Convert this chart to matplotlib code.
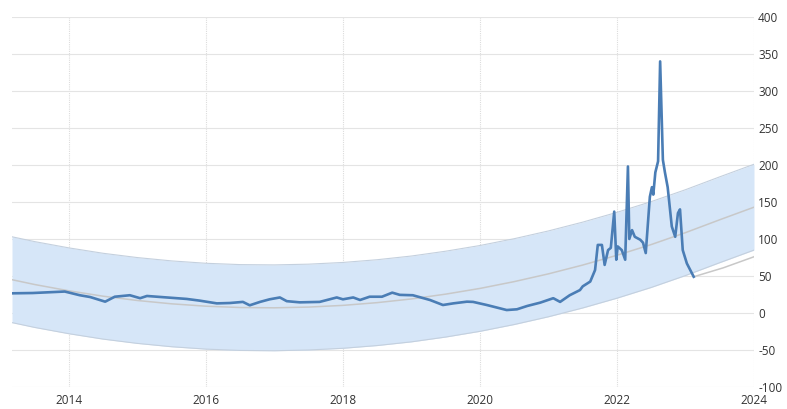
import matplotlib

matplotlib.use("Agg")
import matplotlib.pyplot as plt
import numpy as np

plt.rcParams["font.family"] = ["Open Sans", "DejaVu Sans"]
plt.rcParams["axes.unicode_minus"] = False

# main series (decimal year, value)
years = [
    2013.17, 2013.47, 2013.94, 2014.16, 2014.31, 2014.53, 2014.67, 2014.89, 2015.04, 2015.14,
    2015.43, 2015.72, 2015.91, 2016.16, 2016.35, 2016.54, 2016.64, 2016.79, 2016.93, 2017.08,
    2017.18, 2017.37, 2017.66, 2017.91, 2018.00, 2018.15, 2018.25, 2018.39, 2018.57, 2018.72,
    2018.83, 2019.02, 2019.27, 2019.46, 2019.61, 2019.81, 2019.90, 2020.10, 2020.39, 2020.54,
    2020.69, 2020.88, 2021.07, 2021.17, 2021.31, 2021.46, 2021.50, 2021.61, 2021.68, 2021.72,
    2021.78, 2021.82, 2021.87, 2021.91, 2021.96, 2021.99, 2022.01, 2022.07, 2022.12, 2022.16,
    2022.18, 2022.22, 2022.26, 2022.34, 2022.38, 2022.42, 2022.48, 2022.51, 2022.53, 2022.56,
    2022.60, 2022.63, 2022.67, 2022.70, 2022.74, 2022.80, 2022.85, 2022.89, 2022.92, 2022.96,
    2023.02, 2023.07, 2023.12,
]
values = [
    26.6, 27, 29, 24, 21.6, 15.3, 22, 24, 20, 23,
    21, 19, 16.7, 13, 13.5, 15, 10.4, 15, 18.5, 21,
    16, 14.4, 15, 21, 18.5, 21, 17.6, 22, 22, 27.5,
    24.5, 24, 17.6, 10.8, 13, 15.3, 15, 10.8, 4, 5,
    9.5, 14, 20, 15, 24, 31, 36, 42.5, 58, 92,
    92, 65, 85, 88, 137, 72, 90, 85, 72, 198,
    100, 112, 103, 99, 95, 81, 157, 170, 160, 190,
    205, 340, 207, 190, 170, 117, 103, 135, 140, 85,
    67, 58, 49,
]

# trend line and band
trend_years = [
    2013.17, 2013.5, 2014, 2014.5, 2015, 2015.5, 2016, 2016.5, 2017, 2017.5, 2018, 2018.5,
    2019, 2019.5, 2020, 2020.5, 2021, 2021.5, 2022, 2022.5, 2023, 2023.5, 2024,
]
trend_mid = [
    45, 38.5, 30, 22.7, 16.9, 12.4, 9.2, 7.4, 7.0, 8.0, 10.3, 14.0,
    19.0, 25.5, 33.2, 42.4, 52.9, 64.8, 78.0, 92.5, 108.6, 126, 143,
]
band_half = 58

# short forecast line after the last point
fc_years = [2023.12, 2023.55, 2024]
fc_values = [49, 61, 76]

x_ticks = [2014, 2016, 2018, 2020, 2022, 2024]
y_ticks = [-100, -50, 0, 50, 100, 150, 200, 250, 300, 350, 400]

fig = plt.figure(figsize=(7.87, 4.09), dpi=100)
ax = fig.add_axes([12 / 787, 1 - 387 / 409, (754 - 12) / 787, (387 - 17) / 409])

mid = np.array(trend_mid)
ax.fill_between(trend_years, mid - band_half, mid + band_half, color="#d6e6f8", lw=0, zorder=1)
ax.plot(trend_years, mid + band_half, color="#c4d0de", lw=0.8, zorder=2)
ax.plot(trend_years, mid - band_half, color="#c4d0de", lw=0.8, zorder=2)
ax.plot(trend_years, mid, color="#c8c8c8", lw=1.1, zorder=2)
ax.plot(fc_years, fc_values, color="#c8c8c8", lw=1.1, zorder=2)
ax.plot(years, values, color="#4a7db5", lw=1.9, zorder=3)

ax.set_xlim(2013.17, 2024)
ax.set_ylim(-100, 400)
ax.set_xticks(x_ticks)
ax.set_yticks(y_ticks)
ax.yaxis.tick_right()

ax.grid(axis="y", color="#e4e4e4", lw=0.8, zorder=0)
ax.grid(axis="x", color="#dcdcdc", lw=0.8, ls=(0, (1, 1)), zorder=0)
ax.set_axisbelow(True)
for s in ax.spines.values():
    s.set_visible(False)
ax.tick_params(length=0, labelsize=8.5, colors="#333333")
ax.tick_params(axis="x", pad=5)
ax.tick_params(axis="y", pad=3)

fig.savefig("out.png", dpi=100)
